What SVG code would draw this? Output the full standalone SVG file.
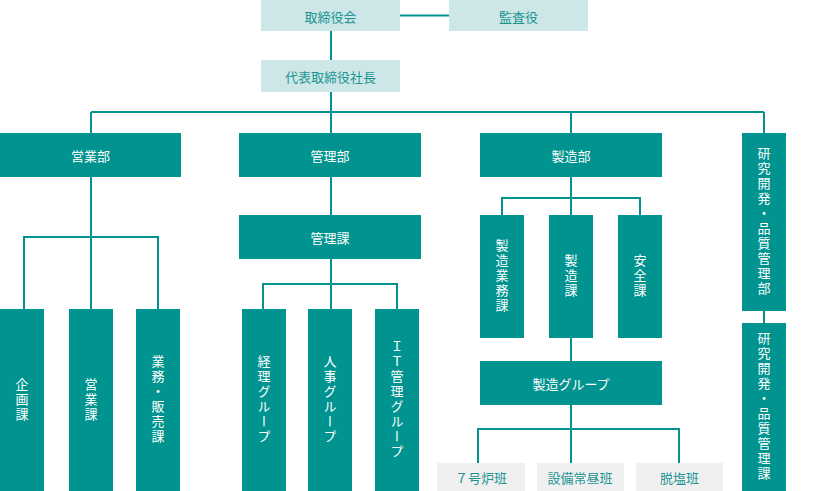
<svg xmlns="http://www.w3.org/2000/svg" width="824" height="491" viewBox="0 0 824 491">
<style>
text{font-family:"Noto Sans CJK JP","Noto Sans CJK SC",sans-serif;font-size:13px;}
.d{fill:#00938f;}
.l{fill:#cde6e7;}
.g{fill:#f0f0f0;}
.tw{fill:#ffffff;text-anchor:middle;dominant-baseline:central;}
.tt{fill:#1a9591;text-anchor:middle;dominant-baseline:central;}
.v{fill:#ffffff;writing-mode:vertical-rl;text-orientation:upright;text-anchor:middle;letter-spacing:2px;}
.c{fill:none;stroke:#00938f;stroke-width:2;}
</style>
<rect width="824" height="491" fill="#ffffff"/>
<g id="connectors">
<path class="c" d="M400,15.5H449 M331,31V60 M331,92V133 M91,112H764 M91,112V133 M571,112V133 M764,112V133"/>
<path class="c" d="M91,177V309 M24,309V237H158V309"/>
<path class="c" d="M331,177V215 M331,259V309 M263,309V284H397V309"/>
<path class="c" d="M571,177V215 M502,215V198H640V215"/>
<path class="c" d="M571,338V361 M571,405V463 M478,463V429H679V463"/>
<path class="c" d="M764,311V323"/>
</g>
<g id="n-torishimariyakukai"><rect class="l" x="261" y="0" width="139" height="31"/><text class="tt" x="330.5" y="16">取締役会</text></g>
<g id="n-kansayaku"><rect class="l" x="449" y="0" width="139" height="31"/><text class="tt" x="518.5" y="16">監査役</text></g>
<g id="n-shacho"><rect class="l" x="261" y="60" width="139" height="32"/><text class="tt" x="330.5" y="76">代表取締役社長</text></g>
<g id="n-eigyobu"><rect class="d" x="0" y="133" width="181" height="44"/><text class="tw" x="90.5" y="155">営業部</text></g>
<g id="n-kanribu"><rect class="d" x="239" y="133" width="182" height="44"/><text class="tw" x="330" y="155">管理部</text></g>
<g id="n-seizobu"><rect class="d" x="480" y="133" width="182" height="44"/><text class="tw" x="571" y="155">製造部</text></g>
<g id="n-kenkyubu"><rect class="d" x="742" y="133" width="44" height="178"/><text class="v" x="764" y="222">研究開発・品質管理部</text></g>
<g id="n-kenkyuka"><rect class="d" x="742" y="323" width="44" height="168"/><text class="v" x="764" y="407">研究開発・品質管理課</text></g>
<g id="n-kikakuka"><rect class="d" x="0" y="309" width="44" height="182"/><text class="v" x="22" y="400">企画課</text></g>
<g id="n-eigyoka"><rect class="d" x="69" y="309" width="44" height="182"/><text class="v" x="91" y="400">営業課</text></g>
<g id="n-gyomuhanbai"><rect class="d" x="136" y="309" width="44" height="182"/><text class="v" x="158" y="400">業務・販売課</text></g>
<g id="n-kanrika"><rect class="d" x="239" y="215" width="182" height="44"/><text class="tw" x="330" y="237">管理課</text></g>
<g id="n-keiri"><rect class="d" x="242" y="309" width="44" height="182"/><text class="v" x="264" y="400">経理グループ</text></g>
<g id="n-jinji"><rect class="d" x="308" y="309" width="44" height="182"/><text class="v" x="330" y="400">人事グループ</text></g>
<g id="n-it"><rect class="d" x="375" y="309" width="44" height="182"/><text class="v" x="397" y="400">ＩＴ管理グループ</text></g>
<g id="n-seizogyomu"><rect class="d" x="480" y="215" width="44" height="123"/><text class="v" x="502" y="276.5">製造業務課</text></g>
<g id="n-seizoka"><rect class="d" x="549" y="215" width="44" height="123"/><text class="v" x="571" y="276.5">製造課</text></g>
<g id="n-anzenka"><rect class="d" x="618" y="215" width="44" height="123"/><text class="v" x="640" y="276.5">安全課</text></g>
<g id="n-seizogroup"><rect class="d" x="480" y="361" width="182" height="44"/><text class="tw" x="571" y="383">製造グループ</text></g>
<g id="n-7gouro"><rect class="g" x="437" y="463" width="88" height="28"/><text class="tt" x="481" y="477">７号炉班</text></g>
<g id="n-setsubi"><rect class="g" x="537" y="463" width="87" height="28"/><text class="tt" x="580" y="477">設備常昼班</text></g>
<g id="n-datsuen"><rect class="g" x="636" y="463" width="87" height="28"/><text class="tt" x="679.5" y="477">脱塩班</text></g>
</svg>
